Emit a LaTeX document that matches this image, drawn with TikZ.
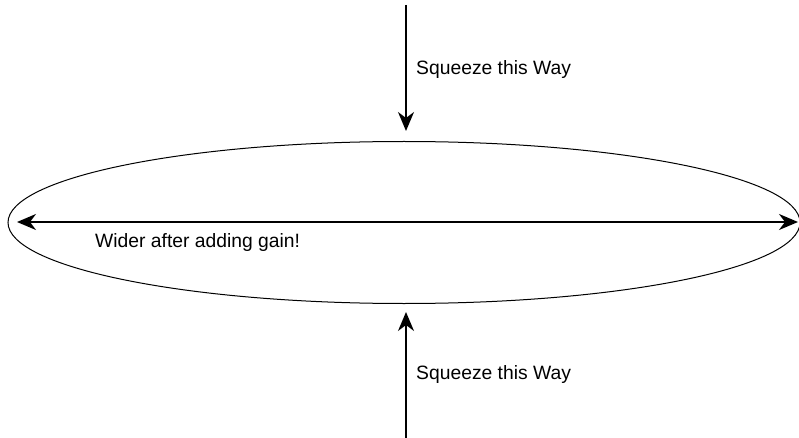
\documentclass[tikz,border=0pt]{standalone}
\usepackage{fontspec}
\setmainfont{Liberation Sans}
\usetikzlibrary{arrows.meta,shapes.geometric}
\begin{document}
\begin{tikzpicture}[x=1pt,y=-1pt,
  tip/.tip={Stealth[length=19pt,width=16pt,inset=6pt]},
  arr/.style={line width=1.6pt,-tip},
  lbl/.style={anchor=west,inner sep=0pt,font=\fontsize{19.3}{22}\selectfont}]
\useasboundingbox (0,0) rectangle (799,438);
\node[draw,ellipse,line width=1pt,minimum width=792pt,minimum height=162pt,inner sep=0pt] (e) at (404,222.5) {};
\coordinate (ttop) at (406,5);
\coordinate (ttip) at (406,131);
\coordinate (btop) at (406,438);
\coordinate (btip) at (406,312);
\coordinate (hl) at (17,222);
\coordinate (hr) at (798,222);
\draw[arr] (ttop) -- (ttip);
\draw[arr] (btop) -- (btip);
\draw[arr,tip-tip] (hl) -- (hr);
\node[lbl] (t1) at (416,70) {Squeeze this Way};
\node[lbl] (t2) at (416,375) {Squeeze this Way};
\node[lbl] (t3) at (95,243) {Wider after adding gain!};
\end{tikzpicture}
\end{document}
